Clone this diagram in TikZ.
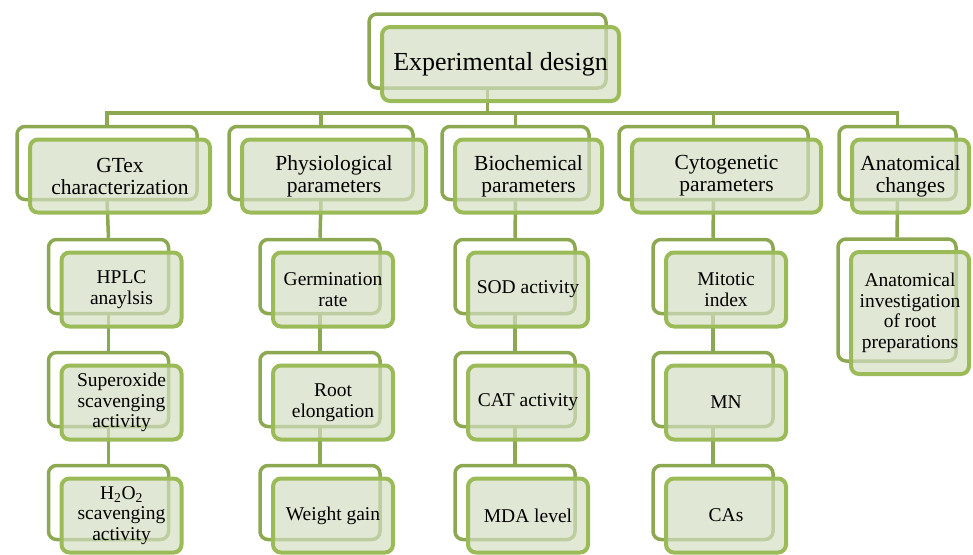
\documentclass[tikz,border=0pt]{standalone}
\usepackage{fontspec}
\setmainfont{Liberation Serif}
\usetikzlibrary{calc}

\definecolor{frameGreen}{RGB}{140,168,80}
\definecolor{boxGreen}{RGB}{155,187,89}
\definecolor{boxFill}{RGB}{212,222,194}

\tikzset{
  backframe/.style={draw=frameGreen, line width=3.5pt, rounded corners=8pt, fill=white, inner sep=0pt},
  frontbox/.style={draw=boxGreen, line width=4pt, rounded corners=8pt, fill=boxFill, fill opacity=0.7,
                   text opacity=1, text=black, align=center, inner sep=0pt},
  link/.style={draw=frameGreen, line width=3.5pt},
  toplevel/.style={minimum width=237pt, minimum height=74pt, font=\fontsize{26}{28}\selectfont},
  group/.style={minimum height=73pt, font=\fontsize{21.5}{22}\selectfont},
  item/.style={minimum width=120pt, minimum height=74pt, font=\fontsize{19.5}{20.5}\selectfont}
}

\begin{document}
\begin{tikzpicture}[x=1pt, y=-1pt]
  \useasboundingbox (0,0) rectangle (973,554);

  % Back frames
  \node (design) [backframe, toplevel] at (487.5,51) {};
  \node (gtex)   [backframe, group, minimum width=180pt] at (107,163) {};
  \node (phys)   [backframe, group, minimum width=184pt] at (321,163) {};
  \node (bio)    [backframe, group, minimum width=147pt] at (515.5,163) {};
  \node (cyto)   [backframe, group, minimum width=189pt] at (713.5,163) {};
  \node (anat)   [backframe, group, minimum width=117pt] at (897.5,163) {};

  \node (hplc)   [backframe, item] at (108.5,276.5) {};
  \node (super)  [backframe, item] at (108.5,389.5) {};
  \node (hoxide) [backframe, item] at (108.5,502.5) {};
  \node (germ)   [backframe, item] at (320,276.5) {};
  \node (root)   [backframe, item] at (320,389.5) {};
  \node (weight) [backframe, item] at (320,502.5) {};
  \node (sod)    [backframe, item] at (515,276.5) {};
  \node (cat)    [backframe, item] at (515,389.5) {};
  \node (mda)    [backframe, item] at (515,502.5) {};
  \node (mitotic)[backframe, item] at (713,276.5) {};
  \node (mn)     [backframe, item] at (713,389.5) {};
  \node (cas)    [backframe, item] at (713,502.5) {};
  \node (invest) [backframe, item, minimum width=118pt, minimum height=122pt] at (897,300) {};

  % Connecting lines
  \coordinate (bar) at (0,113);
  \draw [link] (design.south) -- (design.south |- bar);
  \draw [link] (gtex.north) |- (anat.north |- bar) -- (anat.north);
  \draw [link] (phys.north) -- (phys.north |- bar);
  \draw [link] (bio.north) -- (bio.north |- bar);
  \draw [link] (cyto.north) -- (cyto.north |- bar);

  \draw [link] (gtex.south) -- (hplc.north);
  \draw [link] (hplc.south) -- (super.north);
  \draw [link] (super.south) -- (hoxide.north);
  \draw [link] (phys.south) -- (germ.north);
  \draw [link] (germ.south) -- (root.north);
  \draw [link] (root.south) -- (weight.north);
  \draw [link] (bio.south) -- (sod.north);
  \draw [link] (sod.south) -- (cat.north);
  \draw [link] (cat.south) -- (mda.north);
  \draw [link] (cyto.south) -- (mitotic.north);
  \draw [link] (mitotic.south) -- (mn.north);
  \draw [link] (mn.south) -- (cas.north);
  \draw [link] (anat.south) -- (invest.north);

  % Front boxes
  \node (design-f) [frontbox, toplevel] at ($(design)+(13,13)$) {Experimental design};
  \node (gtex-f)   [frontbox, group, minimum width=180pt] at ($(gtex)+(13,13)$) {GTex\\characterization};
  \node (phys-f)   [frontbox, group, minimum width=184pt] at ($(phys)+(13,13)$) {Physiological\\parameters};
  \node (bio-f)    [frontbox, group, minimum width=147pt] at ($(bio)+(13,13)$) {Biochemical\\parameters};
  \node (cyto-f)   [frontbox, group, minimum width=189pt] at ($(cyto)+(13,13)$) {Cytogenetic\\parameters};
  \node (anat-f)   [frontbox, group, minimum width=117pt] at ($(anat)+(13,13)$) {Anatomical\\changes};

  \node (hplc-f)   [frontbox, item] at ($(hplc)+(13,13)$) {HPLC\\anaylsis};
  \node (super-f)  [frontbox, item] at ($(super)+(13,13)$) {Superoxide\\scavenging\\activity};
  \node (hoxide-f) [frontbox, item] at ($(hoxide)+(13,13)$) {H\textsubscript{2}O\textsubscript{2}\\scavenging\\activity};
  \node (germ-f)   [frontbox, item] at ($(germ)+(13,13)$) {Germination\\rate};
  \node (root-f)   [frontbox, item] at ($(root)+(13,13)$) {Root\\elongation};
  \node (weight-f) [frontbox, item] at ($(weight)+(13,13)$) {Weight gain};
  \node (sod-f)    [frontbox, item] at ($(sod)+(13,13)$) {SOD activity};
  \node (cat-f)    [frontbox, item] at ($(cat)+(13,13)$) {CAT activity};
  \node (mda-f)    [frontbox, item] at ($(mda)+(13,13)$) {MDA level};
  \node (mitotic-f)[frontbox, item] at ($(mitotic)+(13,13)$) {Mitotic\\index};
  \node (mn-f)     [frontbox, item] at ($(mn)+(13,13)$) {MN};
  \node (cas-f)    [frontbox, item] at ($(cas)+(13,13)$) {CAs};
  \node (invest-f) [frontbox, item, minimum width=118pt, minimum height=122pt] at ($(invest)+(13,13)$) {Anatomical\\investigation\\of root\\preparations};
\end{tikzpicture}
\end{document}
